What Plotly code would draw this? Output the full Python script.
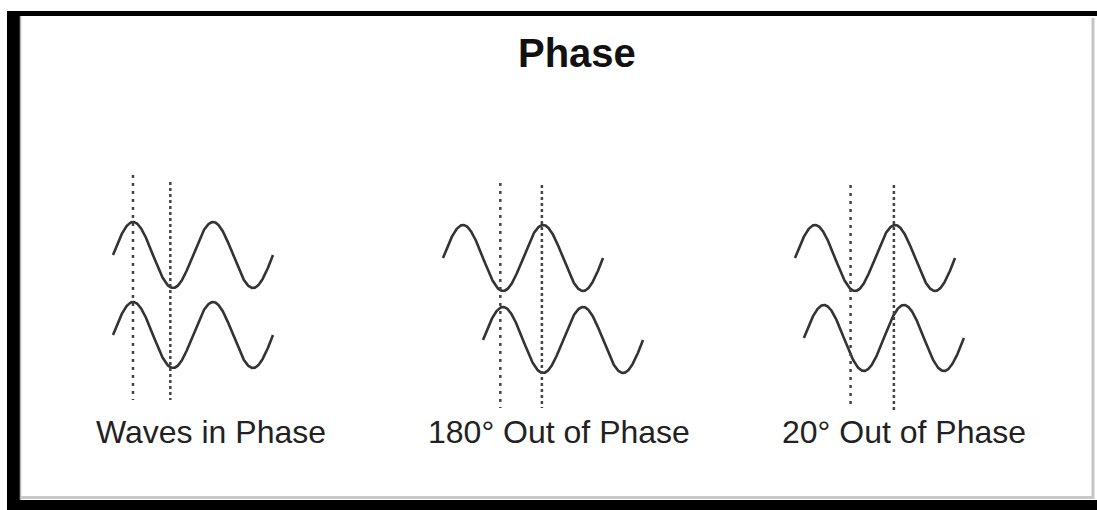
"""Phase diagram: pairs of sine waves in phase, 180° and 20° out of phase."""

import numpy as np
import plotly.graph_objects as go

# chart content
title_text = "Phase"
group_labels = ["Waves in Phase", "180° Out of Phase", "20° Out of Phase"]
lower_shift_deg = [0, 180, 40]  # lag of lower wave behind upper wave, as drawn
ref_lines_deg = [[90, 258], [258, 445], [250, 445]]  # dotted guides, along upper wave
cycles = 2

# layout (pixel-like units of the 1097x510 canvas)
W, H = 1097, 510
group_x0 = [113, 443, 795]
upper_y = [255, 258, 258]
lower_y = [335, 340, 338]
guide_top = [[175, 182], [183, 185], [185, 185]]
guide_bottom = [[400, 400], [408, 408], [407, 410]]
label_x = [211, 559, 904]
PERIOD = 80
AMP = 33
WAVE_COLOR = "#333333"
FONT = "Liberation Sans, Arial, sans-serif"

fig = go.Figure()

phase = np.linspace(0, 360 * cycles, 400)
px_per_deg = PERIOD / 360
for i, label in enumerate(group_labels):
    x0 = group_x0[i]
    # upper wave
    fig.add_trace(
        go.Scatter(
            x=x0 + phase * px_per_deg,
            y=upper_y[i] - AMP * np.sin(np.radians(phase)),
            mode="lines",
            line=dict(color=WAVE_COLOR, width=2.6),
            hoverinfo="skip",
        )
    )
    # lower wave, shifted
    fig.add_trace(
        go.Scatter(
            x=x0 + (phase + lower_shift_deg[i]) * px_per_deg,
            y=lower_y[i] - AMP * np.sin(np.radians(phase)),
            mode="lines",
            line=dict(color=WAVE_COLOR, width=2.6),
            hoverinfo="skip",
        )
    )
    # dotted guide lines
    for j, deg in enumerate(ref_lines_deg[i]):
        gx = x0 + deg * px_per_deg
        fig.add_trace(
            go.Scatter(
                x=[gx, gx],
                y=[guide_top[i][j], guide_bottom[i][j]],
                mode="lines",
                line=dict(color="#444444", width=2.5, dash="3px,5px" if j == 0 else "dot"),
                hoverinfo="skip",
            )
        )
    fig.add_annotation(
        x=label_x[i], y=432, text=label, showarrow=False,
        font=dict(family=FONT, size=32, color="#222222"),
        xanchor="center", yanchor="middle",
    )

fig.add_annotation(
    x=577, y=53, text=f"<b>{title_text}</b>", showarrow=False,
    font=dict(family=FONT, size=40, color="#111111"),
    xanchor="center", yanchor="middle",
)

# black frame (top, left, bottom) with white inner panel
fig.add_shape(type="rect", x0=7, x1=W + 5, y0=11, y1=H + 5,
              fillcolor="black", line=dict(width=0), layer="below")
fig.add_shape(type="rect", x0=20, x1=W + 5, y0=16, y1=500,
              fillcolor="white", line=dict(width=0), layer="below")
fig.add_shape(type="line", x0=20.5, x1=20.5, y0=16, y1=500,
              line=dict(color="#b5b5b5", width=1.5), layer="below")
fig.add_shape(type="line", x0=1093, x1=1093, y0=18, y1=499,
              line=dict(color="#c4c4c4", width=3), layer="below")
fig.add_shape(type="line", x0=21, x1=1094, y0=497.5, y1=497.5,
              line=dict(color="#c8c8c8", width=3), layer="below")

fig.update_layout(
    width=W,
    height=H,
    margin=dict(l=0, r=0, t=0, b=0),
    paper_bgcolor="white",
    plot_bgcolor="white",
    showlegend=False,
    xaxis=dict(range=[0, W], visible=False, fixedrange=True),
    yaxis=dict(range=[H, 0], visible=False, fixedrange=True),
)

fig.write_html(
    "out.html",
    config=dict(displayModeBar=False),
    post_script="document.body.style.margin='0';document.body.style.overflow='hidden';",
)
